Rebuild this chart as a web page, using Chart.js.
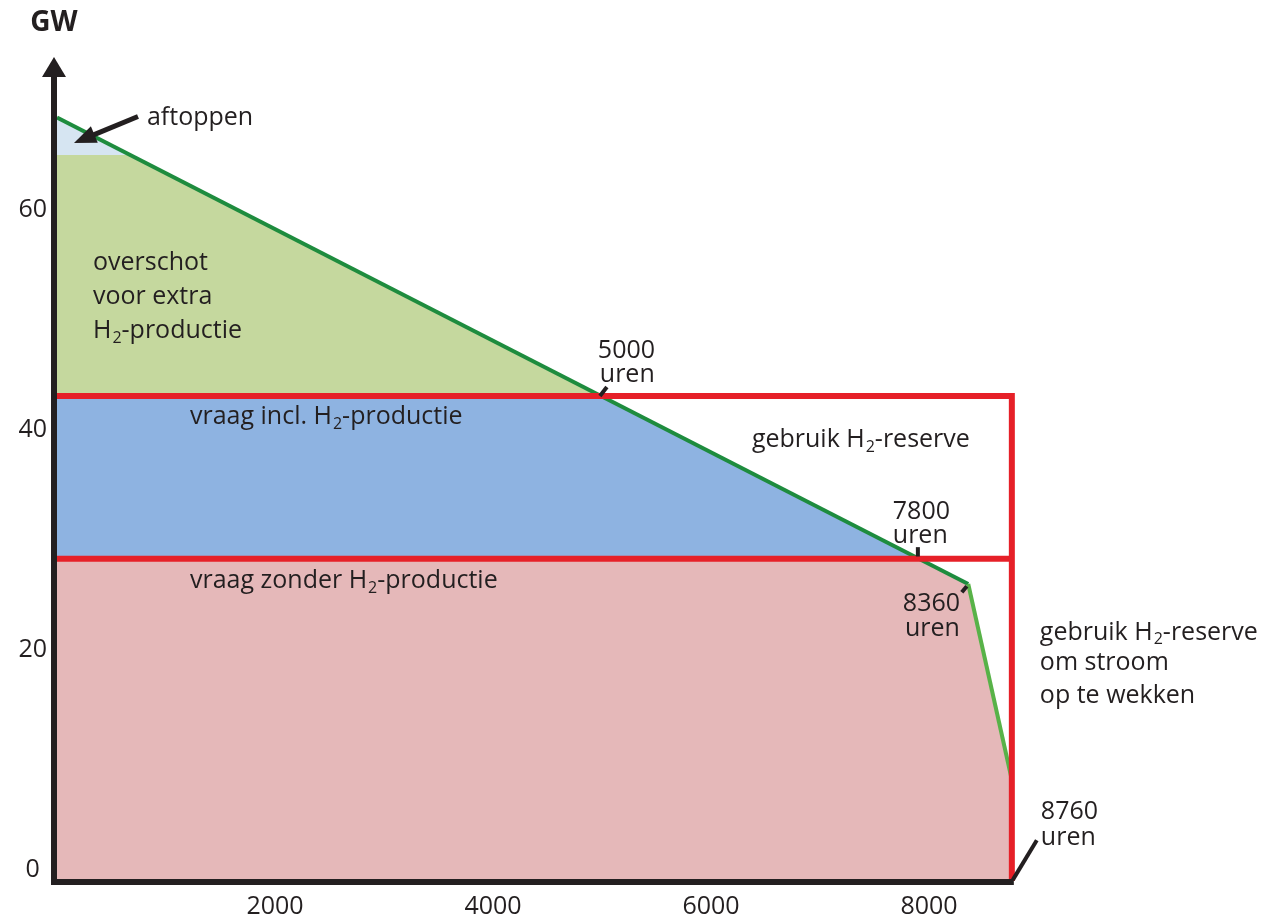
<!DOCTYPE html>
<html>
<head>
<meta charset="utf-8">
<script src="https://cdn.jsdelivr.net/npm/chart.js@4.4.1/dist/chart.umd.min.js"></script>
<style>
  html, body { margin: 0; padding: 0; background: #fff; }
  #wrap { width: 1278px; height: 921px; position: relative; }
</style>
</head>
<body>
<div id="wrap"><canvas id="myChart" width="1278" height="921"></canvas></div>
<script>
// load duration curve (uren vs GW)
var hours = [0, 8360, 8760];
var demandGW = [68.4, 26.0, 8.2];

// levels of the horizontal lines
var capGW = 65;          // aftoppen
var withH2GW = 43.1;     // vraag incl. H2-productie
var withoutH2GW = 28.3;  // vraag zonder H2-productie
var yearHours = 8760;

var xTicks = [2000, 4000, 6000, 8000];
var yTicks = [0, 20, 40, 60];

var textColor = "rgb(35,31,32)";
var fontName = "'Open Sans', 'Noto Sans', sans-serif";
var textSize = 25;

function curve() {
  return hours.map(function (h, i) { return { x: h, y: demandGW[i] }; });
}

function fillSet(level, color, order) {
  return {
    data: curve(),
    borderWidth: 0,
    pointRadius: 0,
    order: order,
    fill: { target: level, above: color, below: "rgba(0,0,0,0)" },
  };
}

// text with H_2 subscripts
function drawRich(ctx, str, x, y, size) {
  var parts = str.split("_");
  ctx.textAlign = "left";
  ctx.textBaseline = "middle";
  var cx = x;
  parts.forEach(function (p, i) {
    if (i > 0) {
      ctx.font = Math.round(size * 0.62) + "px " + fontName;
      ctx.fillText(p[0], cx + 1, y + size * 0.3);
      cx += ctx.measureText(p[0]).width + 1;
      p = p.slice(1);
    }
    ctx.font = size + "px " + fontName;
    ctx.fillText(p, cx, y);
    cx += ctx.measureText(p).width;
  });
}

var labels = [
  { t: "aftoppen", x: 825, y: 68.4 },
  { t: "overschot", x: 330, y: 55.2 },
  { t: "voor extra", x: 330, y: 52.1 },
  { t: "H_2-productie", x: 330, y: 49.0 },
  { t: "5000", x: 4962, y: 47.2 },
  { t: "uren", x: 4980, y: 45.0 },
  { t: "vraag incl. H_2-productie", x: 1220, y: 41.2 },
  { t: "gebruik H_2-reserve", x: 6375, y: 39.1 },
  { t: "7800", x: 7668, y: 32.6 },
  { t: "uren", x: 7668, y: 30.4 },
  { t: "vraag zonder H_2-productie", x: 1220, y: 26.3 },
  { t: "8360", x: 7760, y: 24.2 },
  { t: "uren", x: 7780, y: 21.9 },
  { t: "gebruik H_2-reserve", x: 9017, y: 21.6 },
  { t: "om stroom", x: 9017, y: 18.8 },
  { t: "op te wekken", x: 9017, y: 15.8 },
  { t: "8760", x: 9026, y: 5.3 },
  { t: "uren", x: 9026, y: 2.9 },
];

var leaders = [
  [4981, 43.1, 5045, 43.9],
  [7898, 29.35, 7898, 28.5],
  [8301, 25.25, 8347, 25.8],
  [8769, -0.9, 8989, 2.7],
];

var annotate = {
  id: "annotate",
  afterDraw: function (chart) {
    var ctx = chart.ctx;
    var xs = chart.scales.x, ys = chart.scales.y;
    var area = chart.chartArea;
    ctx.save();
    ctx.fillStyle = textColor;
    ctx.strokeStyle = textColor;

    // axes
    var ax = area.left - 3;
    var ay = area.bottom + 1;
    ctx.lineWidth = 6;
    ctx.beginPath();
    ctx.moveTo(ax, ay);
    ctx.lineTo(xs.getPixelForValue(yearHours) + 2, ay);
    ctx.stroke();
    ctx.beginPath();
    ctx.moveTo(ax, ay + 3);
    ctx.lineTo(ax, area.top + 18);
    ctx.stroke();
    ctx.beginPath();
    ctx.moveTo(ax - 12, area.top + 21);
    ctx.lineTo(ax + 12, area.top + 21);
    ctx.lineTo(ax, area.top + 1);
    ctx.closePath();
    ctx.fill();

    ctx.font = "bold 28px " + fontName;
    ctx.textAlign = "center";
    ctx.textBaseline = "middle";
    ctx.fillText("GW", ax, 23);

    labels.forEach(function (l) {
      drawRich(ctx, l.t, xs.getPixelForValue(l.x), ys.getPixelForValue(l.y), textSize);
    });

    ctx.lineWidth = 4;
    leaders.forEach(function (s) {
      ctx.beginPath();
      ctx.moveTo(xs.getPixelForValue(s[0]), ys.getPixelForValue(s[1]));
      ctx.lineTo(xs.getPixelForValue(s[2]), ys.getPixelForValue(s[3]));
      ctx.stroke();
    });

    // arrow to aftoppen
    var x1 = xs.getPixelForValue(743), y1 = ys.getPixelForValue(68.5);
    var x2 = xs.getPixelForValue(156), y2 = ys.getPixelForValue(66.1);
    var ang = Math.atan2(y2 - y1, x2 - x1);
    ctx.lineWidth = 5;
    ctx.beginPath();
    ctx.moveTo(x1, y1);
    ctx.lineTo(x2 - Math.cos(ang) * 12, y2 - Math.sin(ang) * 12);
    ctx.stroke();
    ctx.beginPath();
    ctx.moveTo(x2, y2);
    ctx.lineTo(x2 - Math.cos(ang) * 22 + Math.sin(ang) * 9, y2 - Math.sin(ang) * 22 - Math.cos(ang) * 9);
    ctx.lineTo(x2 - Math.cos(ang) * 22 - Math.sin(ang) * 9, y2 - Math.sin(ang) * 22 + Math.cos(ang) * 9);
    ctx.closePath();
    ctx.fill();
    ctx.restore();
  },
};

var ctx = document.getElementById("myChart").getContext("2d");
var myChart = new Chart(ctx, {
  type: "line",
  data: {
    datasets: [
      {
        // belastingduurkromme
        data: curve(),
        borderColor: "rgb(30,140,62)",
        borderWidth: 4,
        pointRadius: 0,
        fill: false,
        order: 1,
        segment: {
          borderColor: function (c) { return c.p0DataIndex == 1 ? "rgb(88,178,72)" : "rgb(30,140,62)"; },
        },
      },
      {
        data: [
          { x: 0, y: withH2GW },
          { x: yearHours, y: withH2GW },
          { x: yearHours, y: -1 },
        ],
        borderColor: "rgb(230,32,40)",
        borderWidth: 6,
        pointRadius: 0,
        fill: false,
        order: 0,
      },
      {
        data: [
          { x: 0, y: withoutH2GW },
          { x: yearHours, y: withoutH2GW },
        ],
        borderColor: "rgb(230,32,40)",
        borderWidth: 6,
        pointRadius: 0,
        fill: false,
        order: 0,
      },
      fillSet({ value: capGW }, "rgb(214,229,242)", 2),
      fillSet({ value: withH2GW }, "rgb(197,216,158)", 3),
      fillSet({ value: withoutH2GW }, "rgb(142,179,225)", 4),
      fillSet("start", "rgb(229,184,185)", 5),
    ],
  },
  options: {
    responsive: false,
    animation: false,
    layout: { padding: { left: 0, top: 56, right: 240, bottom: 0 } },
    plugins: { legend: { display: false }, tooltip: { enabled: false } },
    scales: {
      x: {
        type: "linear",
        min: 0,
        max: 9000,
        grid: { display: false, drawTicks: false },
        border: { display: false },
        afterBuildTicks: function (s) { s.ticks = xTicks.map(function (v) { return { value: v }; }); },
        afterFit: function (s) { s.height = 40; },
        ticks: {
          color: textColor,
          font: { family: fontName, size: 25 },
          padding: 11,
          maxRotation: 0,
          callback: function (v) { return String(v); },
        },
      },
      y: {
        type: "linear",
        min: -1,
        max: 74,
        grid: { display: false, drawTicks: false },
        border: { display: false },
        afterBuildTicks: function (s) { s.ticks = yTicks.map(function (v) { return { value: v }; }); },
        afterFit: function (s) { s.width = 57; },
        ticks: {
          color: textColor,
          font: { family: fontName, size: 25 },
          padding: 10,
          crossAlign: "center",
          callback: function (v) { return String(v); },
        },
      },
    },
  },
  plugins: [annotate],
});
</script>
</body>
</html>
